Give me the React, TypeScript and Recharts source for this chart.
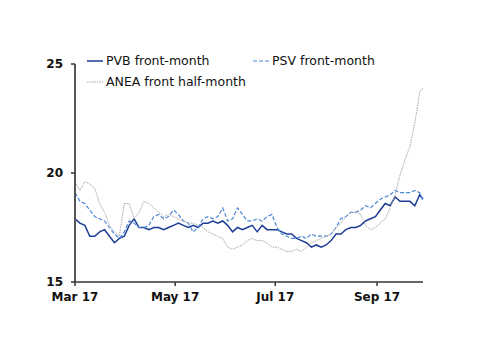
import React from 'react';
import { LineChart, Line, XAxis, YAxis, Legend } from 'recharts';

// days since 1 Mar 2017
const days = [
  0, 3, 6, 9, 12, 15, 18, 21, 24, 27, 30, 33, 36, 39, 42, 45, 48, 51, 54, 57,
  60, 63, 66, 69, 72, 75, 78, 81, 84, 87, 90, 93, 96, 99, 102, 105, 108, 111, 114, 117,
  120, 123, 126, 129, 132, 135, 138, 141, 144, 147, 150, 153, 156, 159, 162, 165, 168, 171, 174, 177,
  180, 183, 186, 189, 192, 195, 198, 201, 204, 207, 210, 212,
];

const pvb = [
  17.9, 17.7, 17.6, 17.1, 17.1, 17.3, 17.4, 17.1, 16.8, 17.0, 17.1, 17.6, 17.9, 17.5, 17.5, 17.4, 17.5, 17.5, 17.4, 17.5,
  17.6, 17.7, 17.6, 17.5, 17.6, 17.5, 17.7, 17.7, 17.8, 17.7, 17.8, 17.6, 17.3, 17.5, 17.4, 17.5, 17.6, 17.3, 17.6, 17.4,
  17.4, 17.4, 17.3, 17.2, 17.2, 17.0, 16.9, 16.8, 16.6, 16.7, 16.6, 16.7, 16.9, 17.2, 17.2, 17.4, 17.5, 17.5, 17.6, 17.8,
  17.9, 18.0, 18.3, 18.6, 18.5, 18.9, 18.7, 18.7, 18.7, 18.5, 19.0, 18.8,
];

const psv = [
  19.1, 18.7, 18.6, 18.3, 18.0, 17.9, 17.8, 17.5, 17.2, 17.0, 17.3, 17.8, 17.7, 17.5, 17.5, 17.6, 18.0, 18.1, 17.9, 18.0,
  18.3, 18.1, 17.8, 17.7, 17.3, 17.5, 17.9, 18.0, 17.9, 18.0, 18.4, 17.8, 17.9, 18.4, 18.1, 17.8, 17.8, 17.9, 17.8, 18.0,
  18.1, 17.5, 17.2, 17.1, 17.0, 17.0, 17.1, 17.0, 17.2, 17.1, 17.1, 17.1, 17.2, 17.5, 17.9, 18.0, 18.2, 18.2, 18.3, 18.5,
  18.4, 18.6, 18.8, 18.9, 19.0, 19.2, 19.1, 19.1, 19.1, 19.2, 19.1, 18.7,
];

const anea = [
  19.6, 19.2, 19.6, 19.5, 19.3, 18.6, 18.2, 17.6, 17.3, 17.1, 18.6, 18.6, 17.9, 18.2, 18.7, 18.6, 18.4, 18.2, 18.0, 18.1,
  18.0, 17.9, 17.8, 17.7, 17.7, 17.6, 17.5, 17.3, 17.2, 17.1, 17.0, 16.6, 16.5, 16.6, 16.7, 16.9, 17.0, 16.9, 16.9, 16.8,
  16.6, 16.6, 16.5, 16.4, 16.4, 16.5, 16.4, 16.6, 16.8, 16.9, 17.0, 17.1, 17.2, 17.5, 17.7, 18.0, 18.2, 18.2, 18.1, 17.6,
  17.4, 17.5, 17.7, 17.9, 18.4, 19.0, 19.9, 20.6, 21.2, 22.3, 23.7, 23.9,
];

const tickDays = [0, 61, 122, 184];
const tickLabels = ['Mar 17', 'May 17', 'Jul 17', 'Sep 17'];

const data = days.map((d, i) => ({ day: d, pvb: pvb[i], psv: psv[i], anea: anea[i] }));

const FONT = '"DejaVu Sans", Verdana, sans-serif';

const series = [
  { key: 'pvb', name: 'PVB front-month', color: '#1d3c96', width: 1.5, dash: undefined as string | undefined },
  { key: 'psv', name: 'PSV front-month', color: '#4a86d6', width: 1.2, dash: '4 2' },
  { key: 'anea', name: 'ANEA front half-month', color: '#a6a6a6', width: 1, dash: '1.5 1' },
];

const LegendBox = () => {
  const item = (s: typeof series[number], left: number, top: number) => (
    <div key={s.key} style={{ position: 'absolute', left, top, display: 'flex', alignItems: 'center', whiteSpace: 'nowrap' }}>
      <svg width={17} height={4} style={{ marginRight: 2 }}>
        <line x1={0} y1={2} x2={16} y2={2} stroke={s.color} strokeWidth={s.width} strokeDasharray={s.dash} />
      </svg>
      <span style={{ fontFamily: FONT, fontSize: 12.5, color: '#111' }}>{s.name}</span>
    </div>
  );
  return (
    <div style={{ position: 'relative', width: 320, height: 40 }}>
      {item(series[0], 0, 0)}
      {item(series[1], 166, 0)}
      {item(series[2], 0, 21)}
    </div>
  );
};

export default function App() {
  return (
    <div style={{ position: 'absolute', left: 0, top: 0, background: '#fff' }}>
      <LineChart width={500} height={354} data={data} margin={{ top: 64, right: 77, left: 0, bottom: 42 }}>
        <XAxis
          dataKey="day"
          type="number"
          domain={[0, 212]}
          ticks={tickDays}
          tickFormatter={(v) => tickLabels[tickDays.indexOf(v)] ?? ''}
          tick={{ fill: '#111', fontFamily: FONT, fontSize: 12, fontWeight: 'bold' }}
          tickSize={4}
          tickMargin={6}
          height={30}
          stroke="#333"
          axisLine={{ stroke: '#333', strokeWidth: 1.5 }}
          tickLine={{ stroke: '#333', strokeWidth: 1.5 }}
        />
        <YAxis
          type="number"
          domain={[15, 25]}
          ticks={[15, 20, 25]}
          width={75}
          tick={{ fill: '#111', fontFamily: FONT, fontSize: 12, fontWeight: 'bold' }}
          tickSize={4}
          tickMargin={8}
          axisLine={{ stroke: '#555', strokeWidth: 2 }}
          tickLine={{ stroke: '#333', strokeWidth: 1.5 }}
        />
        <Legend
          layout="horizontal"
          verticalAlign="middle"
          align="center"
          wrapperStyle={{ top: 53, left: 87, width: 320 }}
          content={<LegendBox />}
        />
        {series.map((s) => (
          <Line
            key={s.key}
            type="linear"
            dataKey={s.key}
            name={s.name}
            stroke={s.color}
            strokeWidth={s.width}
            strokeDasharray={s.dash}
            dot={false}
            isAnimationActive={false}
          />
        ))}
      </LineChart>
    </div>
  );
}
